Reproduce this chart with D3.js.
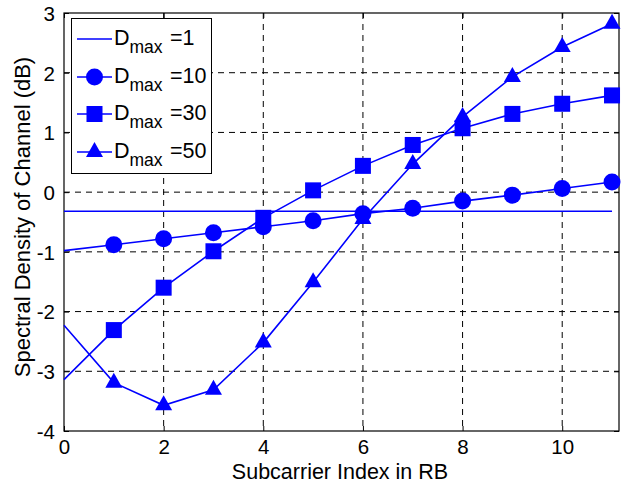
<!DOCTYPE html>
<html><head><meta charset="utf-8">
<script src="https://cdn.jsdelivr.net/npm/d3@7"></script>
<style>
body{margin:0;background:#fff;}
text{font-family:"Liberation Sans",Arial,Helvetica,sans-serif;}
</style></head>
<body><svg id="c" width="625" height="483"></svg>
<script>
const subcarriers = [0,1,2,3,4,5,6,7,8,9,10,11];
const d1  = [-0.32,-0.32,-0.32,-0.32,-0.32,-0.32,-0.32,-0.32,-0.32,-0.32,-0.32,-0.32];
const d10 = [-0.98,-0.88,-0.78,-0.68,-0.58,-0.48,-0.36,-0.27,-0.15,-0.05,0.06,0.17];
const d30 = [-3.14,-2.31,-1.60,-0.99,-0.43,0.03,0.44,0.79,1.07,1.31,1.48,1.62];
const d50 = [-2.23,-3.19,-3.57,-3.31,-2.52,-1.51,-0.45,0.47,1.26,1.93,2.43,2.82];
const seriesNames = ["1","10","30","50"];
const markerTypes = ["none","circle","square","triangle"];
const xTicks = [0,2,4,6,8,10];
const yTicks = [-4,-3,-2,-1,0,1,2,3];
const xLabel = "Subcarrier Index in RB";
const yLabel = "Spectral Density of Channel (dB)";

const svg = d3.select("#c");
const L=64, R=619, T=13, B=431;
const x = d3.scaleLinear().domain([0,11.14]).range([L,R]);
const y = d3.scaleLinear().domain([-4,3]).range([B,T]);
const blue = "#0000ff";
const FONT = "'Liberation Sans',Arial,sans-serif";
const fmt = d => String(d);

// grid
const g = svg.append("g");
g.selectAll(".vx").data(xTicks.filter(v=>v>0)).enter().append("line")
 .attr("x1",d=>x(d)).attr("x2",d=>x(d)).attr("y1",T).attr("y2",B)
 .attr("stroke","#000").attr("stroke-width",1).attr("stroke-dasharray","6,5");
g.selectAll(".hy").data(yTicks.filter(v=>v>-4&&v<3)).enter().append("line")
 .attr("y1",d=>y(d)).attr("y2",d=>y(d)).attr("x1",L).attr("x2",R)
 .attr("stroke","#000").attr("stroke-width",1).attr("stroke-dasharray","6,5");

// axes
const tickLen=5;
const xa = svg.append("g").attr("transform",`translate(0,${B})`)
 .call(d3.axisBottom(x).tickValues(xTicks).tickSize(-tickLen).tickPadding(8.5).tickFormat(fmt));
const xt = svg.append("g").attr("transform",`translate(0,${T})`)
 .call(d3.axisTop(x).tickValues(xTicks).tickSize(-tickLen).tickFormat(""));
const ya = svg.append("g").attr("transform",`translate(${L},0)`)
 .call(d3.axisLeft(y).tickValues(yTicks).tickSize(-tickLen).tickPadding(9).tickFormat(fmt));
const yr = svg.append("g").attr("transform",`translate(${R},0)`)
 .call(d3.axisRight(y).tickValues(yTicks).tickSize(-tickLen).tickFormat(""));
[xa,xt,ya,yr].forEach(a=>{
  a.attr("font-size",20.5).attr("font-family",FONT);
  a.select(".domain").remove();
  a.selectAll("line").attr("stroke","#000").attr("stroke-width",1);
  a.selectAll("text").attr("font-size",20.5).attr("fill","#000");
});
ya.selectAll("text").attr("dy","0.36em");
svg.append("rect").attr("x",L).attr("y",T).attr("width",R-L).attr("height",B-T)
 .attr("fill","none").attr("stroke","#000").attr("stroke-width",1.2);

// labels
svg.append("text").attr("x",340).attr("y",478.5).attr("text-anchor","middle")
 .attr("font-size",21.5).text(xLabel);
svg.append("text").attr("transform",`translate(30,217) rotate(-90)`)
 .attr("text-anchor","middle").attr("font-size",22).text(yLabel);

// marker drawer
function drawMarker(sel, type){
  if(type==="circle") sel.append("circle").attr("r",8.5).attr("fill",blue);
  else if(type==="square") sel.append("rect").attr("x",-8).attr("y",-8).attr("width",16).attr("height",16).attr("fill",blue);
  else if(type==="triangle") sel.append("path").attr("d","M0,-10L8.5,5L-8.5,5Z").attr("fill",blue);
}

const allSeries=[d1,d10,d30,d50];
const line = d3.line().x((d,i)=>x(subcarriers[i])).y(d=>y(d));
allSeries.forEach((s,k)=>{
  svg.append("path").datum(s).attr("d",line).attr("fill","none")
   .attr("stroke",blue).attr("stroke-width",1.6);
  if(markerTypes[k]!=="none"){
    s.forEach((v,i)=>{
      if(i===0) return;
      const m = svg.append("g").attr("transform",`translate(${x(subcarriers[i])},${y(v)})`);
      drawMarker(m, markerTypes[k]);
    });
  }
});

// legend
const lg = svg.append("g");
lg.append("rect").attr("x",71.5).attr("y",18.5).attr("width",140).attr("height",155)
 .attr("fill","#fff").attr("stroke","#000").attr("stroke-width",1);
const ly = [39,77,114,152];
seriesNames.forEach((n,k)=>{
  const e = lg.append("g").attr("transform",`translate(0,${ly[k]})`);
  e.append("line").attr("x1",77).attr("x2",112).attr("y1",0).attr("y2",0)
   .attr("stroke",blue).attr("stroke-width",1.6);
  const m = e.append("g").attr("transform","translate(94.5,0)");
  drawMarker(m, markerTypes[k]);
  const t = e.append("text").attr("x",114).attr("y",5.5).attr("font-size",21.5);
  t.append("tspan").text("D");
  t.append("tspan").attr("font-size",17.5).attr("dy",8).text("max");
  e.append("text").attr("x",170).attr("y",5.5).attr("font-size",21.5).text("="+n);
});
</script></body></html>
